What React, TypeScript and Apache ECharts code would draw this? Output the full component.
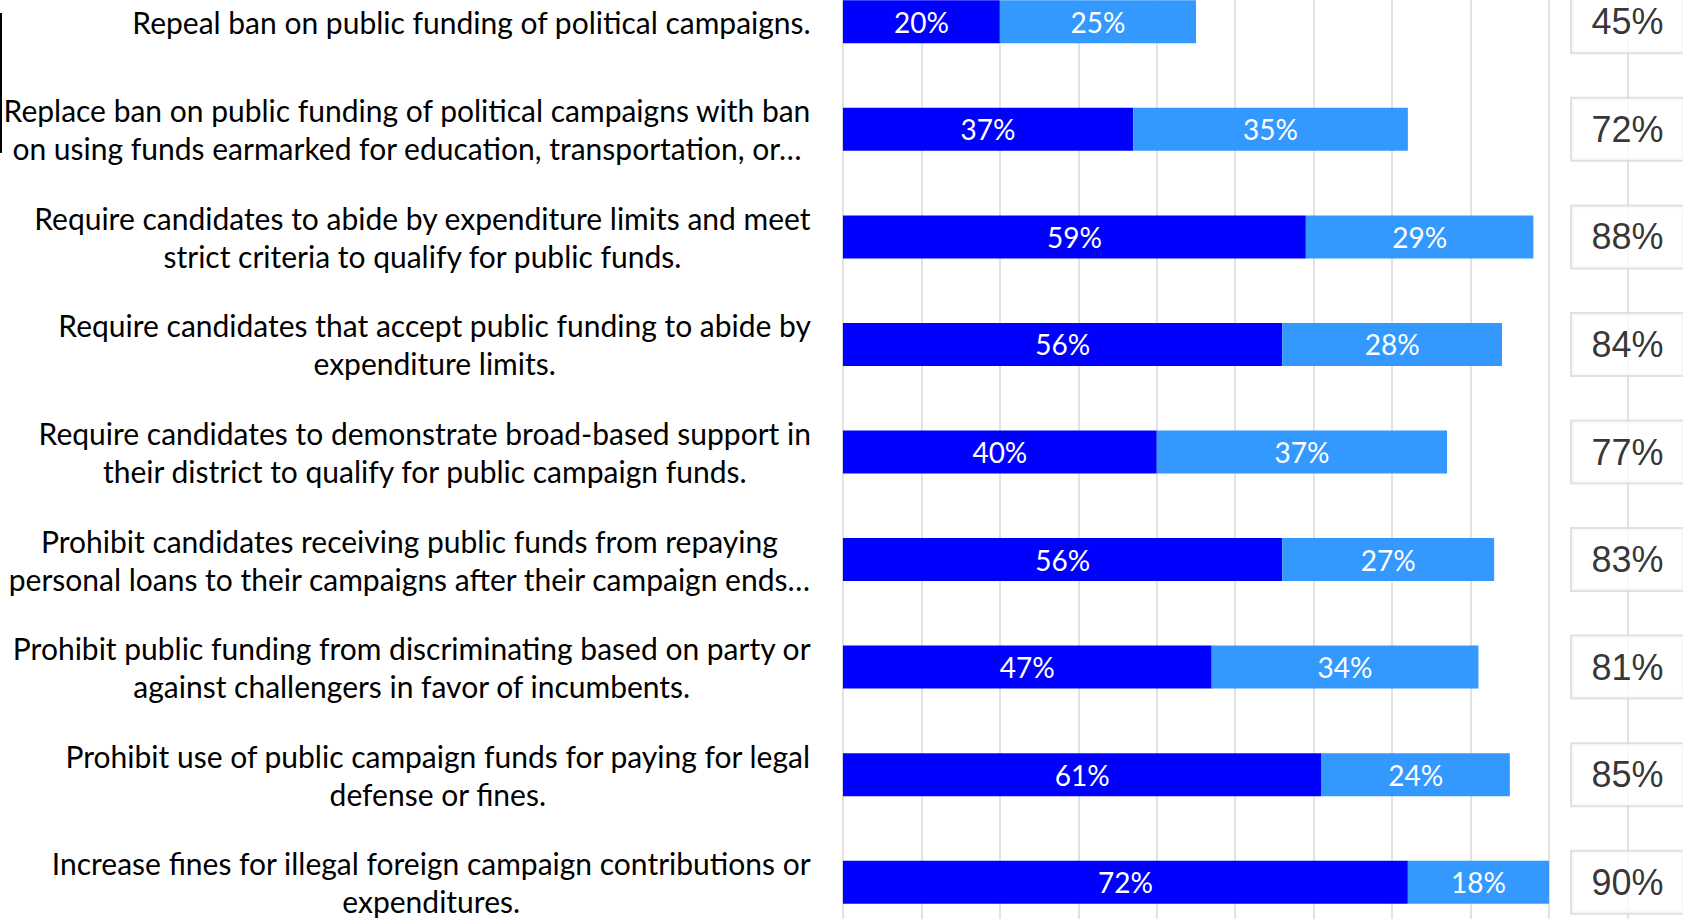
import React, { useEffect, useRef } from "react";
import * as echarts from "echarts";

const categories: string[] = [
  "Repeal ban on public funding of political campaigns.",
  "Replace ban on public funding of political campaigns with ban\non using funds earmarked for education, transportation, or…",
  "Require candidates to abide by expenditure limits and meet\nstrict criteria to qualify for public funds.",
  "Require candidates that accept public funding to abide by\nexpenditure limits.",
  "Require candidates to demonstrate broad-based support in\ntheir district to qualify for public campaign funds.",
  "Prohibit candidates receiving public funds from repaying\npersonal loans to their campaigns after their campaign ends…",
  "Prohibit public funding from discriminating based on party or\nagainst challengers in favor of incumbents.",
  "Prohibit use of public campaign funds for paying for legal\ndefense or fines.",
  "Increase fines for illegal foreign campaign contributions or\nexpenditures.",
];

const strongValues: number[] = [20, 37, 59, 56, 40, 56, 47, 61, 72];
const somewhatValues: number[] = [25, 35, 29, 28, 37, 27, 34, 24, 18];
const totalValues: number[] = [45, 72, 88, 84, 77, 83, 81, 85, 90];
const totalColumnX = 100;

// The chart canvas is larger than the window and shifted up, so that the
// visible region is a crop of the full chart (as in the reference).
const OFFSET_TOP = 32;
const CANVAS_W = 1706;
const CANVAS_H = 968;

export default function App() {
  const ref = useRef<HTMLDivElement>(null);
  useEffect(() => {
    if (!ref.current) return;
    const chart = echarts.init(ref.current, null, { renderer: "svg" });
    const labelFont = "Lato, 'Noto Sans', sans-serif";
    chart.setOption({
      animation: false,
      backgroundColor: "#ffffff",
      grid: { left: 842, right: 0, top: 0, bottom: 0, containLabel: false },
      xAxis: {
        type: "value",
        min: 0,
        max: 110,
        interval: 10,
        axisLabel: { show: false },
        axisLine: { show: false },
        axisTick: { show: false },
        splitLine: { show: true, lineStyle: { color: "#D9D9D9", width: 1.5 } },
      },
      yAxis: {
        type: "category",
        inverse: true,
        data: categories,
        axisLine: { show: false },
        axisTick: { show: false },
        axisLabel: {
          margin: 32,
          align: "right",
          formatter: (v: string) =>
            v
              .split("\n")
              .map((l) => "{c|" + l + "}")
              .join("\n"),
          rich: {
            c: {
              align: "center",
              fontFamily: labelFont,
              fontSize: 30,
              lineHeight: 38,
              color: "#000000",
            },
          },
        },
      },
      graphic: [
        {
          type: "line",
          shape: { x1: 1, y1: 13 + OFFSET_TOP, x2: 1, y2: 153 + OFFSET_TOP },
          style: { stroke: "#000000", lineWidth: 2 },
        },
      ],
      series: [
        {
          type: "bar",
          stack: "s",
          data: strongValues,
          barWidth: 43,
          itemStyle: { color: "#0000FF" },
          label: {
            show: true,
            position: "inside",
            formatter: "{c}%",
            color: "#ffffff",
            fontFamily: labelFont,
            fontSize: 28,
          },
        },
        {
          type: "bar",
          stack: "s",
          data: somewhatValues,
          barWidth: 43,
          itemStyle: { color: "#3399FF" },
          label: {
            show: true,
            position: "inside",
            formatter: "{c}%",
            color: "#ffffff",
            fontFamily: labelFont,
            fontSize: 28,
          },
        },
        {
          type: "scatter",
          data: categories.map((c, i) => [totalColumnX, i, totalValues[i]]),
          symbolSize: 2,
          itemStyle: { color: "rgba(0,0,0,0)" },
          z: 5,
          label: {
            show: true,
            position: "inside",
            formatter: (p: any) => p.value[2] + "%",
            color: "#000000",
            fontFamily: "'Liberation Sans', Arial, sans-serif",
            fontSize: 36,
            backgroundColor: "#ffffff",
            borderColor: "#D9D9D9",
            borderWidth: 2,
            width: 111,
            height: 61,
            lineHeight: 61,
            align: "center",
            verticalAlign: "middle",
          },
        },
      ],
    });
    return () => chart.dispose();
  }, []);
  return (
    <div
      ref={ref}
      style={{
        position: "fixed",
        left: 0,
        top: -OFFSET_TOP,
        width: CANVAS_W,
        height: CANVAS_H,
      }}
    />
  );
}
